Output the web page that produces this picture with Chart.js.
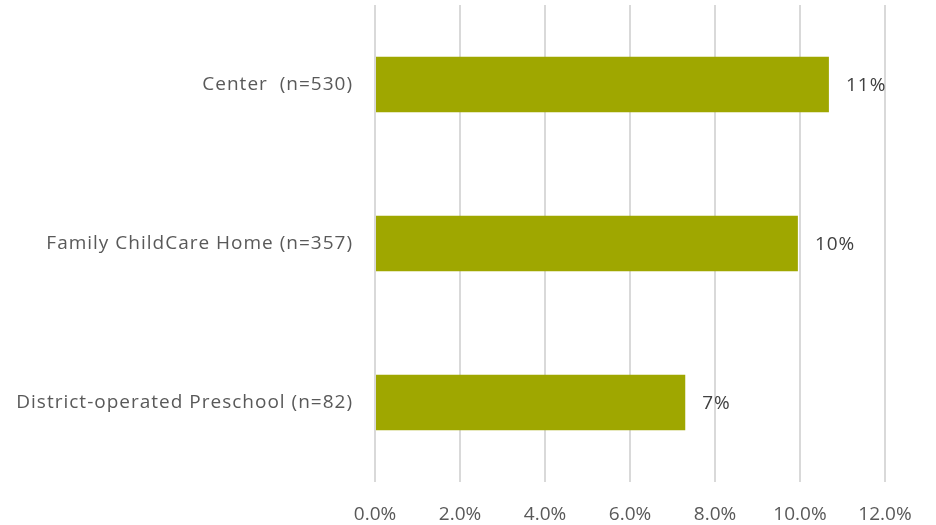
<!DOCTYPE html>
<html><head><meta charset="utf-8">
<script src="https://cdn.jsdelivr.net/npm/chart.js@4/dist/chart.umd.min.js"></script>
<style>html,body{margin:0;padding:0;background:#fff}#wrap{width:936px;height:525px;position:relative}</style>
</head><body><div id="wrap"><canvas id="c"></canvas></div>
<script>
const categories = ["Center  (n=530)", "Family ChildCare Home (n=357)", "District-operated Preschool (n=82)"];
const values = [10.68, 9.95, 7.30];
const valueLabels = ["11%", "10%", "7%"];
const tickValues = [0, 2, 4, 6, 8, 10, 12];

const FONT = "'Open Sans', Lato, sans-serif";

const labelPlugin = {
  id: 'valLabels',
  afterDatasetsDraw(chart) {
    const ctx = chart.ctx;
    const meta = chart.getDatasetMeta(0);
    ctx.save();
    ctx.font = "19px " + FONT;
    if ('letterSpacing' in ctx) ctx.letterSpacing = '1px';
    ctx.fillStyle = "#404040";
    ctx.textAlign = "left";
    ctx.textBaseline = "middle";
    meta.data.forEach((bar, i) => {
      ctx.fillText(valueLabels[i], bar.x + 17, bar.y + 1);
    });
    if ('letterSpacing' in ctx) ctx.letterSpacing = '0px';
    ctx.restore();
  }
};

new Chart(document.getElementById('c'), {
  type: 'bar',
  data: {
    labels: categories,
    datasets: [{
      data: values,
      backgroundColor: '#9fa700',
      borderWidth: 0,
      barPercentage: 0.35,
      categoryPercentage: 1.0
    }]
  },
  options: {
    indexAxis: 'y',
    responsive: true,
    maintainAspectRatio: false,
    animation: false,
    layout: { padding: { top: 5, right: 51, left: 0, bottom: 0 } },
    plugins: { legend: { display: false }, tooltip: { enabled: false } },
    scales: {
      x: {
        min: 0, max: 12,
        afterBuildTicks(axis) { axis.ticks = tickValues.map(v => ({ value: v })); },
        afterFit(axis) { axis.height = 43; axis.paddingLeft = 0; axis.paddingRight = 0; },
        grid: { color: '#d9d9d9', lineWidth: 2, drawTicks: false },
        border: { display: false },
        ticks: {
          color: '#595959',
          font: { family: FONT, size: 19 },
          padding: 21,
          callback: v => v.toFixed(1) + '%'
        }
      },
      y: {
        afterFit(axis) {
          axis.width = 375; axis.paddingTop = 0; axis.paddingBottom = 0;
          if (!axis._lsWrapped) {
            const orig = axis.drawLabels.bind(axis);
            axis.drawLabels = function (area) {
              const ctx = this.ctx;
              const has = 'letterSpacing' in ctx;
              if (has) ctx.letterSpacing = '1px';
              orig(area);
              if (has) ctx.letterSpacing = '0px';
            };
            axis._lsWrapped = true;
          }
        },
        grid: { display: false, drawTicks: false },
        border: { display: false },
        ticks: {
          color: '#595959',
          font: { family: FONT, size: 19 },
          padding: 22
        }
      }
    }
  },
  plugins: [labelPlugin]
});
</script></body></html>
